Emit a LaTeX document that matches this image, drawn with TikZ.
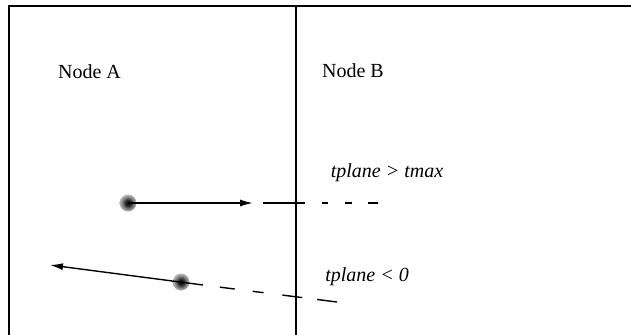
\documentclass[tikz,border=0pt]{standalone}
\usepackage{fontspec}
\setmainfont{Liberation Serif}
\usetikzlibrary{arrows.meta}
\newcommand{\framewidth}{0.9pt}
\newcommand{\raywidth}{0.7pt}
\pgfdeclareradialshading{fuzzy}{\pgfpoint{0bp}{0bp}}{color(0bp)=(black); color(8bp)=(black!85); color(20bp)=(black!40); color(34bp)=(black!8); color(50bp)=(white)}
\tikzset{
  fuzzydot/.style={circle, inner sep=0pt, minimum size=8.5pt, shade, shading=fuzzy},
  ray/.style={line width=\raywidth, -{Latex[length=6.5pt,width=3.5pt]}},
  raydash/.style={line width=\raywidth}
}

\begin{document}
\begin{tikzpicture}[x=0.5pt, y=-0.5pt]
\useasboundingbox (0,0) rectangle (631,334);
\clip (0,0) rectangle (631,334);
% frame and split line
\draw[line width=\framewidth] (640,6) -- (9,6) -- (9,345);
\draw[line width=\framewidth] (296,6) -- (296,345);
% labels
\node (A) at (89.5,72) {Node A};
\node (B) at (353,71) {Node B};
\node (tmax) at (387,173) {\itshape tplane > tmax};
\node (tzero) at (367,277) {\itshape tplane < 0};
% points
\node[fuzzydot] (1) at (128,203) {};
\node[fuzzydot] (2) at (181,282) {};
\coordinate (1tip) at (253,203);
\coordinate (1end) at (378,203);
\coordinate (2tip) at (50,265);
\coordinate (2cut) at (203,285);
\coordinate (2end) at (337,302);
%upper ray
\draw[ray] (1.center) -- (1tip);
\draw[raydash, dash pattern=on 0pt off 5pt on 21pt off 8.5pt on 3pt off 8.5pt on 3.5pt off 8pt on 5pt] (1tip) -- (1end);
%lower ray
\draw[ray] (2cut) -- (2tip);
\draw[raydash, dash pattern=on 0pt off 8.5pt on 7.5pt off 9pt on 5.5pt off 9.5pt on 10pt off 7.5pt on 9.5pt] (2cut) -- (2end);
\end{tikzpicture}
\end{document}
